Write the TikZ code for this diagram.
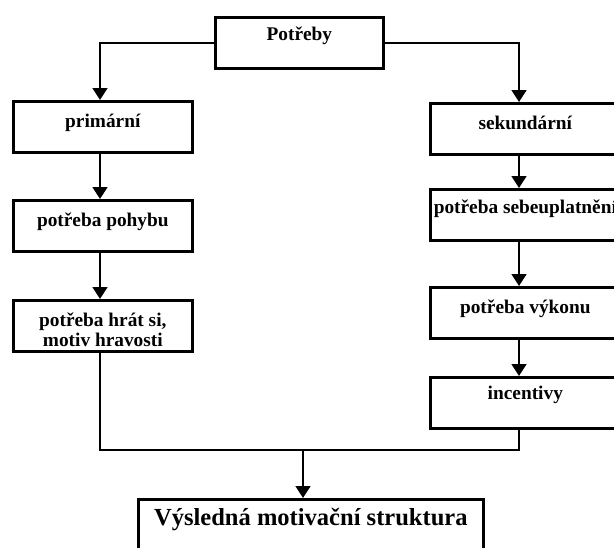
\documentclass[tikz,border=0pt]{standalone}
\usepackage{fontspec}
\setmainfont{Liberation Serif}
\usetikzlibrary{arrows.meta}
\tikzset{
  box/.style={draw, line width=2pt, inner sep=0pt, anchor=north west, align=center,
    font=\fontsize{14.5}{15}\selectfont\bfseries, text height=19.5pt, text depth=18.75pt},
  lbox/.style={box, minimum width=134.25pt},
  rbox/.style={box, minimum width=142.5pt},
  conn/.style={line width=2pt},
  arr/.style={conn, -{Triangle[width=11pt,length=9pt]}}
}
\begin{document}
\begin{tikzpicture}[x=0.75pt,y=-0.75pt,line join=miter]
	\useasboundingbox (0,0) rectangle (614,547);
	\coordinate (lcol) at (100,0);
	\coordinate (rcol) at (519,0);
	\coordinate (merge) at (303,450);
	% top
	\node[box, minimum width=126pt, text height=17pt, text depth=21.25pt] (pot) at (214,16) {Potřeby};
	% left column
	\node[lbox] (prim) at (12,100) {primární};
	\node[lbox] (pohyb) at (12,199) {potřeba pohybu};
	\node[lbox, text height=34.5pt, text depth=3.75pt] (hra) at (12,299) {potřeba hrát si,\\motiv hravosti};
	% right column
	\node[rbox] (sek) at (429,102) {sekundární};
	\node[rbox, text height=18pt, text depth=20.25pt] (seb) at (429,188) {potřeba sebeuplatnění};
	\node[rbox] (vyk) at (429,286) {potřeba výkonu};
	\node[rbox, text height=16.5pt, text depth=21.75pt] (inc) at (429,376) {incentivy};
	% bottom
	\node[box, minimum width=258.75pt, font=\fontsize{18.4}{20}\selectfont\bfseries, text depth=25.5pt] (vys) at (137,498) {Výsledná motivační struktura};
	\draw[arr] (pot.west) -| (lcol |- prim.north);
	\draw[arr] (pot.east) -| (rcol |- sek.north);
	\draw[arr] (lcol |- prim.south) -- (lcol |- pohyb.north);
	\draw[arr] (lcol |- pohyb.south) -- (lcol |- hra.north);
	\draw[arr] (rcol |- sek.south) -- (rcol |- seb.north);
	\draw[arr] (rcol |- seb.south) -- (rcol |- vyk.north);
	\draw[arr] (rcol |- vyk.south) -- (rcol |- inc.north);
	\draw[conn] (lcol |- hra.south) |- (merge) -| (rcol |- inc.south);
	\draw[arr] (merge) -- (merge |- vys.north);
\end{tikzpicture}
\end{document}
